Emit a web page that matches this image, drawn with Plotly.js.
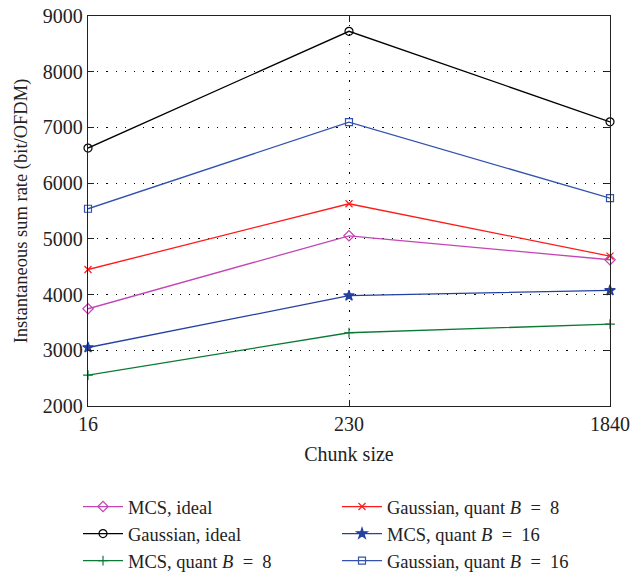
<!DOCTYPE html>
<html><head><meta charset="utf-8">
<script src="https://cdn.plot.ly/plotly-3.0.1.min.js"></script>
<style>html,body{margin:0;padding:0;background:#fff}#chart{width:631px;height:573px}</style>
</head><body><div id="chart"></div>
<script>
const chunkSizes = ['16', '230', '1840'];
const mcsIdeal = [3745, 5055, 4625];
const gaussianIdeal = [6630, 8725, 7100];
const mcsQuant8 = [2555, 3315, 3470];
const gaussianQuant8 = [4450, 5630, 4690];
const mcsQuant16 = [3050, 3980, 4075];
const gaussianQuant16 = [5540, 7095, 5730];
const yTicks = [2000, 3000, 4000, 5000, 6000, 7000, 8000, 9000];

function tr(name, y, color, symbol, size) {
  return {x: chunkSizes, y: y, name: name, type: 'scatter', mode: 'lines+markers',
    line: {color: color, width: 1.3}, cliponaxis: false,
    marker: {symbol: symbol, size: size, color: color, line: {color: color, width: 1.2}}};
}
const EQ = '\u2002=\u2002';
// row-wise order so the horizontal legend reads as two columns
const data = [
  tr('MCS, ideal', mcsIdeal, '#c345b5', 'diamond-open', 8),
  tr('Gaussian, quant <i>B</i>' + EQ + '8', gaussianQuant8, '#ff1a1a', 'x-thin', 7),
  tr('Gaussian, ideal', gaussianIdeal, '#000000', 'circle-open', 8),
  tr('MCS, quant <i>B</i>' + EQ + '16', mcsQuant16, '#2440a0', 'star', 8),
  tr('MCS, quant <i>B</i>' + EQ + '8', mcsQuant8, '#0b7a35', 'cross-thin', 7),
  tr('Gaussian, quant <i>B</i>' + EQ + '16', gaussianQuant16, '#3352b0', 'square-open', 7)
];
const font = {family: 'Liberation Serif, DejaVu Serif, serif', size: 20, color: '#222'};
const yTitleFont = {family: 'Liberation Serif, DejaVu Serif, serif', size: 18.5, color: '#222'};
const legFont = {family: 'Liberation Serif, DejaVu Serif, serif', size: 18.5, color: '#222'};
const layout = {
  width: 631, height: 573,
  margin: {l: 88, r: 21, t: 16, b: 167},
  paper_bgcolor: '#fff', plot_bgcolor: '#fff',
  font: font,
  showlegend: true,
  xaxis: {type: 'category', range: [0, 2], showline: true, linecolor: '#222', linewidth: 1.3, mirror: 'ticks',
    ticks: 'inside', ticklen: 6, tickcolor: '#222', showgrid: true, gridcolor: '#000', griddash: '1.2px,8px', gridwidth: 1.2,
    zeroline: false, title: {text: 'Chunk size', font: font, standoff: 12}, tickfont: font},
  yaxis: {range: [2000, 9000], tickvals: yTicks, showline: true, linecolor: '#222', linewidth: 1.3, mirror: 'ticks',
    ticks: 'inside', ticklen: 6, tickcolor: '#222', showgrid: true, gridcolor: '#000', griddash: '1.2px,8px', gridwidth: 1.2,
    zeroline: false, title: {text: 'Instantaneous sum rate (bit/OFDM)', font: yTitleFont, standoff: 10}, tickfont: font},
  legend: {orientation: 'h', xref: 'container', yref: 'container', x: 78 / 631, xanchor: 'left',
    y: 1 - 488 / 573, yanchor: 'top', itemwidth: 40,
    entrywidth: 204, entrywidthmode: 'pixels', font: legFont, traceorder: 'normal', tracegroupgap: 0}
};
Plotly.newPlot('chart', data, layout, {displayModeBar: false});
</script></body></html>
